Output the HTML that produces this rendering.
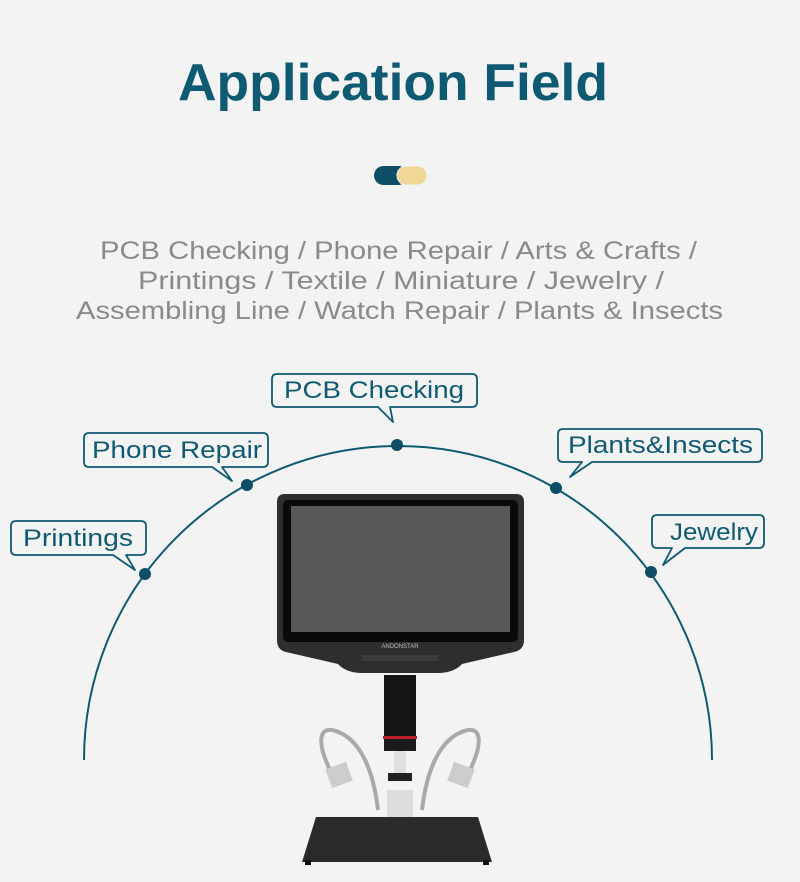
<!DOCTYPE html>
<html><head><meta charset="utf-8"><style>
html,body{margin:0;padding:0;background:#f3f3f3;}
svg{display:block;}
</style></head><body>
<svg width="800" height="882" viewBox="0 0 800 882" xmlns="http://www.w3.org/2000/svg" font-family="Liberation Sans, sans-serif">
<rect width="800" height="882" fill="#f3f3f3"/>
<text x="393" y="100" text-anchor="middle" font-size="52" font-weight="bold" fill="#0e5a73" textLength="430" lengthAdjust="spacingAndGlyphs">Application Field</text>
<rect x="374" y="166" width="34" height="19" rx="9.5" fill="#0e4d66"/>
<rect x="397" y="166" width="30" height="19" rx="9.5" fill="#f1d796" stroke="#f3f3f3" stroke-width="1"/>
<g font-size="25" fill="#8a8a8a">
<text x="100" y="259" textLength="597" lengthAdjust="spacingAndGlyphs">PCB Checking / Phone Repair / Arts &amp; Crafts /</text>
<text x="138" y="289" textLength="526" lengthAdjust="spacingAndGlyphs">Printings / Textile / Miniature / Jewelry /</text>
<text x="76" y="319" textLength="647" lengthAdjust="spacingAndGlyphs">Assembling Line / Watch Repair / Plants &amp; Insects</text>
</g>
<path d="M84 760 A314 314 0 0 1 712 760" fill="none" stroke="#0e5a73" stroke-width="2"/>
<g fill="#0e4d66">
<circle cx="145" cy="574" r="6"/><circle cx="247" cy="485" r="6"/><circle cx="397" cy="445" r="6"/><circle cx="556" cy="488" r="6"/><circle cx="651" cy="572" r="6"/>
</g>
<g fill="#f3f3f3" stroke="#0e5a73" stroke-width="1.8" stroke-linejoin="round">
<path d="M16 521 H141 Q146 521 146 526 V550 Q146 555 141 555 H126 L135 570 L113 555 H16 Q11 555 11 550 V526 Q11 521 16 521 Z"/>
<path d="M89 433 H263 Q268 433 268 438 V462 Q268 467 263 467 H222 L232 481 L212 467 H89 Q84 467 84 462 V438 Q84 433 89 433 Z"/>
<path d="M277 374 H472 Q477 374 477 379 V402 Q477 407 472 407 H390 L393 422 L378 407 H277 Q272 407 272 402 V379 Q272 374 277 374 Z"/>
<path d="M563 429 H757 Q762 429 762 434 V457 Q762 462 757 462 H592 L570 477 L582 462 H563 Q558 462 558 457 V434 Q558 429 563 429 Z"/>
<path d="M657 515 H759 Q764 515 764 520 V543 Q764 548 759 548 H685 L663 565 L672 548 H657 Q652 548 652 543 V520 Q652 515 657 515 Z"/>
</g>
<g font-size="24" fill="#0e5a73">
<text x="23" y="546" textLength="110" lengthAdjust="spacingAndGlyphs">Printings</text>
<text x="92" y="458" textLength="170" lengthAdjust="spacingAndGlyphs">Phone Repair</text>
<text x="284" y="398" textLength="180" lengthAdjust="spacingAndGlyphs">PCB Checking</text>
<text x="568" y="453" textLength="185" lengthAdjust="spacingAndGlyphs">Plants&amp;Insects</text>
<text x="670" y="540" textLength="88" lengthAdjust="spacingAndGlyphs">Jewelry</text>
</g>
<!-- microscope -->
<path d="M285 494 H516 Q524 494 524 502 V640 Q524 650 514 652 L462 664 Q455 672 440 673 H360 Q345 672 338 664 L286 652 Q277 650 277 640 V502 Q277 494 285 494 Z" fill="#2e2e2e"/>
<rect x="283" y="500" width="235" height="142" rx="5" fill="#0a0a0a"/>
<rect x="291" y="506" width="219" height="126" fill="#585858"/>
<text x="400" y="648" text-anchor="middle" font-size="6" fill="#bbb">ANDONSTAR</text>
<rect x="362" y="655" width="76" height="6" fill="#3c3c3c"/>
<rect x="384" y="675" width="32" height="63" fill="#151515"/>
<rect x="383" y="736" width="34" height="3" fill="#c0202a"/>
<rect x="384" y="739" width="32" height="12" fill="#1a1a1a"/>
<rect x="394" y="751" width="12" height="22" fill="#e0e0e0"/>
<rect x="388" y="773" width="24" height="8" fill="#222"/>
<path d="M378 810 C372 760 355 735 332 730 C318 728 318 745 330 770" fill="none" stroke="#aaa" stroke-width="4"/>
<path d="M422 810 C428 760 445 735 468 730 C482 728 482 745 470 770" fill="none" stroke="#aaa" stroke-width="4"/>
<rect x="328" y="765" width="22" height="20" fill="#ccc" transform="rotate(-20 339 775)"/>
<rect x="450" y="765" width="22" height="20" fill="#ccc" transform="rotate(20 461 775)"/>
<rect x="387" y="790" width="26" height="30" fill="#ddd"/>
<path d="M316 817 H478 L492 862 H302 Z" fill="#2a2a2a"/>
<rect x="305" y="860" width="6" height="5" fill="#111"/><rect x="483" y="860" width="6" height="5" fill="#111"/>
</svg>
</body></html>
